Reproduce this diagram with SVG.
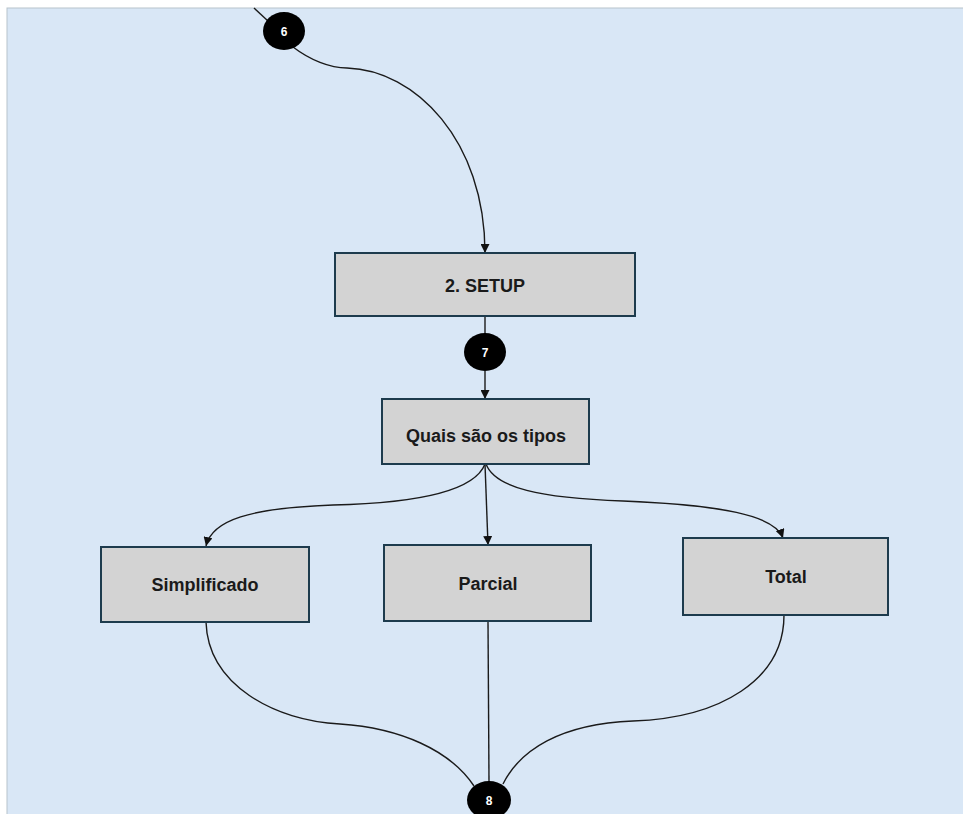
<svg xmlns="http://www.w3.org/2000/svg" width="963" height="814" viewBox="0 0 963 814">
  <defs>
    <marker id="arrow" viewBox="0 0 10 10" refX="10" refY="5" markerWidth="9" markerHeight="9" markerUnits="userSpaceOnUse" orient="auto">
      <path d="M0,0 L10,5 L0,10 Z" fill="#111"/>
    </marker>
    <style>
      .box { fill: #d3d3d3; stroke: #1d3b4d; stroke-width: 2; }
      .label { font-family: "Liberation Sans", Arial, sans-serif; font-weight: bold; font-size: 18px; fill: #1a1a1a; text-anchor: middle; }
      .dot { fill: #000; }
      .num { font-family: "Liberation Sans", Arial, sans-serif; font-weight: bold; font-size: 12px; fill: #fff; text-anchor: middle; }
      .edge { fill: none; stroke: #1a1a1a; stroke-width: 1.4; }
    </style>
  </defs>

  <!-- page background and canvas panel -->
  <rect x="0" y="0" width="963" height="814" fill="#ffffff"/>
  <rect x="7" y="8" width="960" height="810" fill="#d9e7f6" stroke="#b7c3cc" stroke-width="1"/>

  <!-- connectors -->
  <g id="connectors">
    <path class="edge" d="M254,8 L268,21"/>
    <path class="edge" marker-end="url(#arrow)" d="M293,47 C310,60 330,68 347,68 C415,70 485,140 485,253"/>
    <path class="edge" d="M485,316 L485,333"/>
    <path class="edge" marker-end="url(#arrow)" d="M485,371 L485,399"/>
    <path class="edge" marker-end="url(#arrow)" d="M485,464 C475,490 420,503 333,505 C250,508 212,520 206,546"/>
    <path class="edge" marker-end="url(#arrow)" d="M485,464 L488,545"/>
    <path class="edge" marker-end="url(#arrow)" d="M486,464 C495,488 540,498 623,501 C720,505 775,515 783,538"/>
    <path class="edge" d="M206,622 C208,685 275,721 340,724 C400,728 450,750 474,786"/>
    <path class="edge" d="M488,621 L489,781"/>
    <path class="edge" d="M784,615 C784,680 720,718 633,721 C560,724 520,750 503,784"/>
  </g>

  <!-- connector points -->
  <g id="point-6">
    <ellipse class="dot" cx="284" cy="31" rx="21" ry="19"/>
    <text class="num" x="284" y="36">6</text>
  </g>
  <g id="point-7">
    <ellipse class="dot" cx="485" cy="352" rx="21" ry="19"/>
    <text class="num" x="485" y="357">7</text>
  </g>
  <g id="point-8">
    <ellipse class="dot" cx="489" cy="800" rx="22" ry="19"/>
    <text class="num" x="489" y="805">8</text>
  </g>

  <!-- process boxes -->
  <g id="setup">
    <rect class="box" x="335" y="253" width="300" height="63"/>
    <text class="label" x="485" y="292">2. SETUP</text>
  </g>
  <g id="tipos">
    <rect class="box" x="382" y="399" width="207" height="65"/>
    <text class="label" x="486" y="442">Quais são os tipos</text>
  </g>
  <g id="simplificado">
    <rect class="box" x="101" y="547" width="208" height="75"/>
    <text class="label" x="205" y="591">Simplificado</text>
  </g>
  <g id="parcial">
    <rect class="box" x="384" y="545" width="207" height="76"/>
    <text class="label" x="488" y="590">Parcial</text>
  </g>
  <g id="total">
    <rect class="box" x="683" y="538" width="205" height="77"/>
    <text class="label" x="786" y="583">Total</text>
  </g>
</svg>
